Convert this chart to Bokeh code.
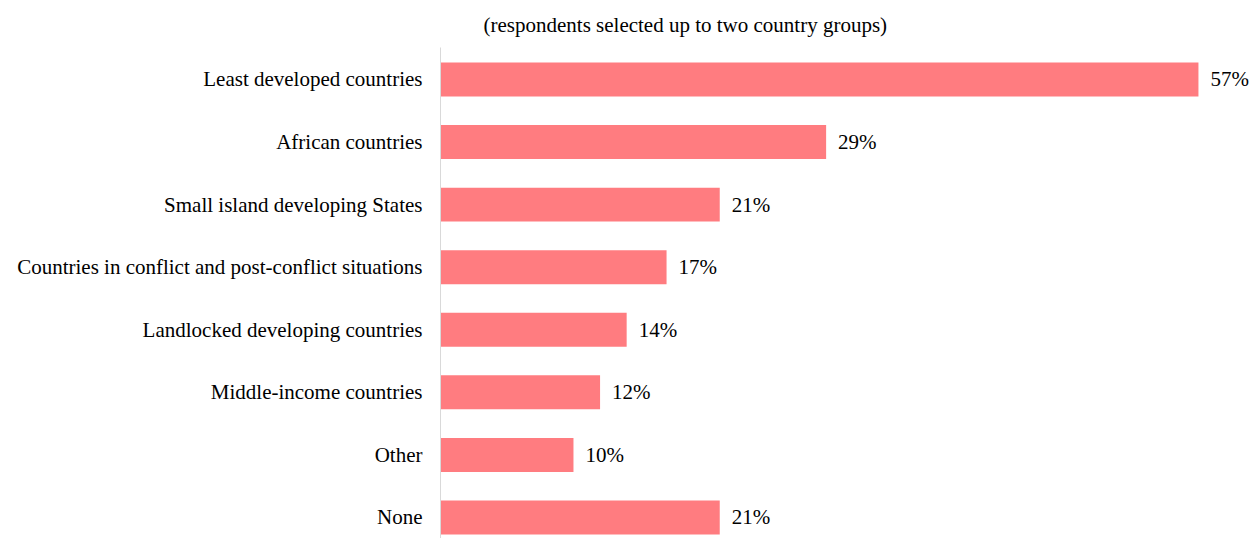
from bokeh.plotting import figure
from bokeh.models import Range1d, FixedTicker, ColumnDataSource, LabelSet, Title
from bokeh.embed import file_html
from bokeh.resources import INLINE

categories = ["Least developed countries", "African countries", "Small island developing States",
              "Countries in conflict and post-conflict situations", "Landlocked developing countries",
              "Middle-income countries", "Other", "None"]
values = [57, 29, 21, 17, 14, 12, 10, 21]
value_labels = [f"{v}%" for v in values]
title_text = "(respondents selected up to two country groups)"

FONT = "Liberation Serif"
FS = "21px"
pos = list(range(len(categories)))
src = ColumnDataSource(dict(y=pos, v=values, lab=value_labels))

p = figure(width=1253, height=538, output_backend="svg", toolbar_location=None,
           x_range=Range1d(0, 61.14), y_range=Range1d(7.336, -0.511),
           min_border_left=440, min_border_right=0, min_border_top=47, min_border_bottom=0)
p.hbar(y="y", right="v", left=0, height=0.543, source=src, color="#FF7C80", line_color=None)

p.add_layout(LabelSet(x="v", y="y", text="lab", source=src, x_offset=12, text_baseline="middle",
                      text_font=FONT, text_font_size=FS, text_color="#000000"))

p.title = Title(text=title_text, align="left", offset=43, standoff=21, text_font=FONT,
                text_font_size=FS, text_font_style="normal", text_color="#000000")

p.xaxis.visible = False
p.grid.visible = False
p.outline_line_color = None
yax = p.yaxis[0]
yax.ticker = FixedTicker(ticks=pos)
yax.major_label_overrides = {i: c for i, c in enumerate(categories)}
yax.major_tick_line_color = None
yax.minor_tick_line_color = None
yax.axis_line_color = "#D9D9D9"
yax.major_label_standoff = 12
yax.major_label_text_font = FONT
yax.major_label_text_font_size = FS
yax.major_label_text_color = "#000000"

open("out.html", "w").write(file_html(p, INLINE))
